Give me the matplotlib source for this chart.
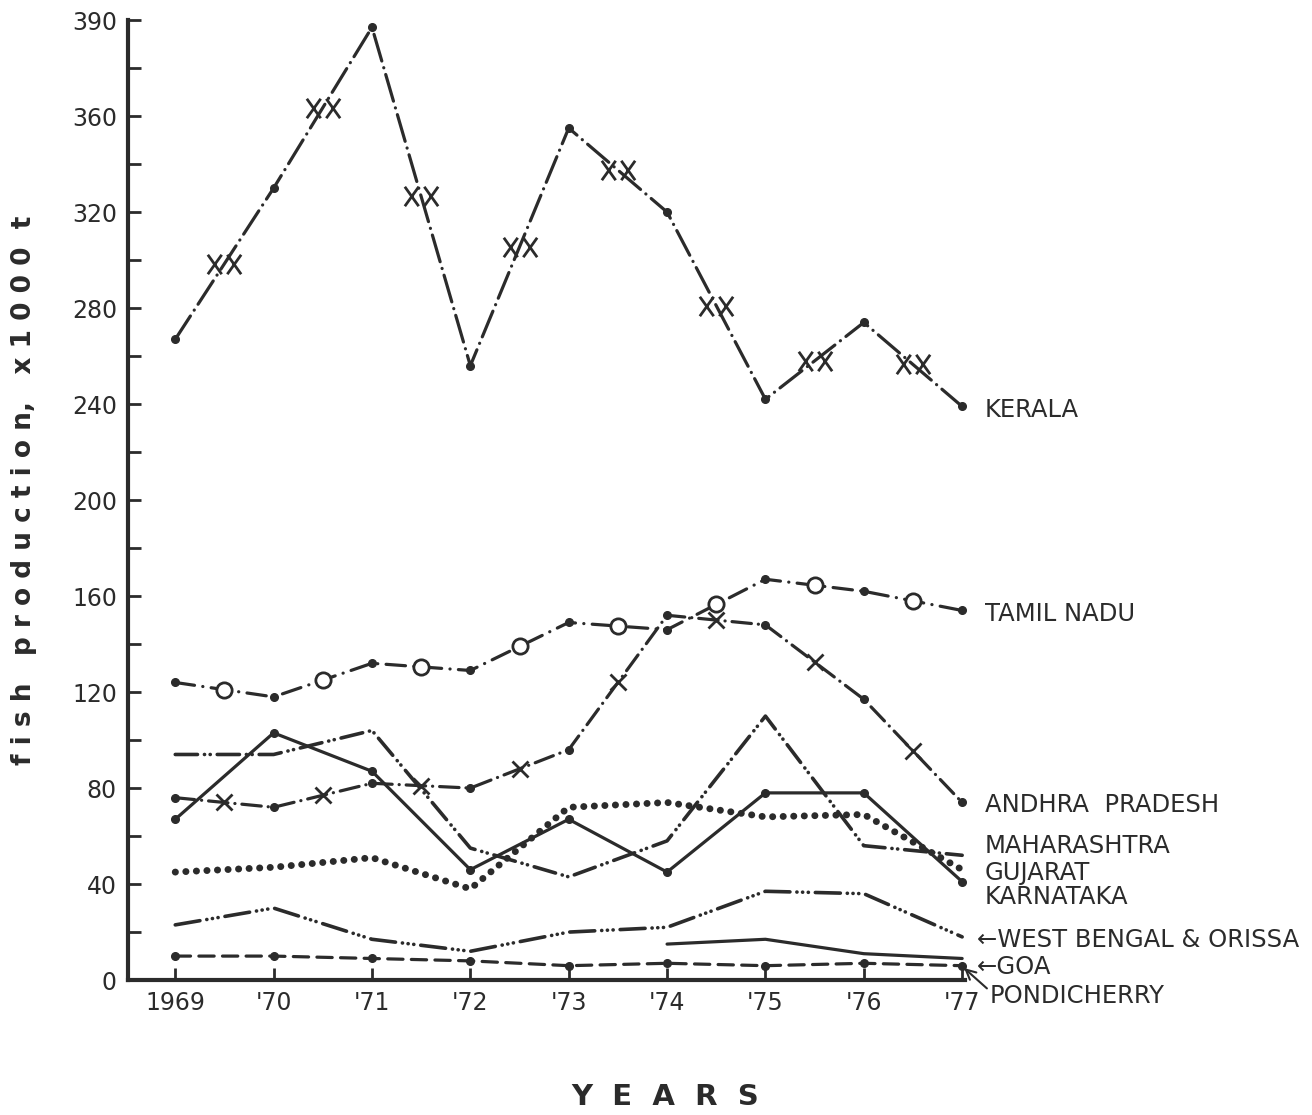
#!/usr/bin/env python3
""" Marine fish production by Indian maritime state, 1969-77.
"""

import numpy as np
import matplotlib
matplotlib.use("Agg")
import matplotlib.pyplot as plt
from matplotlib.path import Path

years = [1969, 1970, 1971, 1972, 1973, 1974, 1975, 1976, 1977]
year_labels = ["1969", "'70", "'71", "'72", "'73", "'74", "'75", "'76", "'77"]

kerala = [267, 330, 397, 256, 355, 320, 242, 274, 239]
tamil_nadu = [124, 118, 132, 129, 149, 146, 167, 162, 154]
andhra_pradesh = [76, 72, 82, 80, 96, 152, 148, 117, 74]
maharashtra = [94, 94, 104, 55, 43, 58, 110, 56, 52]
gujarat = [45, 47, 51, 38, 72, 74, 68, 69, 46]
karnataka = [67, 103, 87, 46, 67, 45, 78, 78, 41]
west_bengal_orissa = [23, 30, 17, 12, 20, 22, 37, 36, 18]
goa = [np.nan, np.nan, np.nan, np.nan, np.nan, 15, 17, 11, 9]
pondicherry = [10, 10, 9, 8, 6, 7, 6, 7, 6]

y_ticks = [0, 40, 80, 120, 160, 200, 240, 280, 320, 360, 400]
y_tick_labels = ["0", "40", "80", "120", "160", "200", "240", "280", "320", "360", "390"]

plt.rcParams["font.family"] = "DejaVu Sans"
plt.rcParams["lines.scale_dashes"] = False
INK = "#2b2b2b"

# marker shaped like the hand-drawn "xx" on the Kerala curve
xx_verts = [(-1.2, -0.7), (-0.2, 0.7), (-1.2, 0.7), (-0.2, -0.7),
            (0.2, -0.7), (1.2, 0.7), (0.2, 0.7), (1.2, -0.7)]
xx_codes = [Path.MOVETO, Path.LINETO] * 4
xx_marker = Path(xx_verts, xx_codes)

fig = plt.figure(figsize=(13.12, 11.15), dpi=100)
ax = fig.add_axes([0.0976, 0.121, 0.638, 0.861])

x = np.array(years, dtype=float)
mid_x = (x[:-1] + x[1:]) / 2


def mids(vals):
    v = np.array(vals, dtype=float)
    return (v[:-1] + v[1:]) / 2


def draw(vals, dashes, lw=2.3, dots=True, mid_marker=None, ms=11, mew=2.0):
    line_kw = dict(color=INK, lw=lw, dash_capstyle="round",
                   solid_capstyle="round", clip_on=False)
    if dashes is None:
        ax.plot(x, vals, ls="-", **line_kw)
    else:
        ax.plot(x, vals, ls=(0, dashes), **line_kw)
    if dots:
        ax.plot(x, vals, ls="none", marker="o", ms=5.5, color=INK, clip_on=False)
    if mid_marker is not None:
        ax.plot(mid_x, mids(vals), ls="none", marker=mid_marker, ms=ms,
                mfc="white" if mid_marker == "o" else "none", mec=INK, mew=mew)


draw(kerala, (20, 5, 0.1, 5), mid_marker=xx_marker, ms=24, mew=2.0)
draw(tamil_nadu, (14, 6, 0.1, 6), mid_marker="o", ms=11)
draw(andhra_pradesh, (14, 5, 0.1, 5), mid_marker="x", ms=12)
draw(maharashtra, (16, 5, 0.1, 4, 0.1, 5), lw=2.6, dots=False)
draw(gujarat, (0.1, 7.5), lw=5.0, dots=False)
draw(karnataka, None, dots=True)
draw(west_bengal_orissa, (18, 5, 0.1, 4, 0.1, 4, 0.1, 5), lw=2.6, dots=False)
draw(goa, None, dots=False)
draw(pondicherry, (11, 6), dots=True)

# labels at the right end of the curves
FS = 17.5
label_pos = [
    ("KERALA", 237.5), ("TAMIL NADU", 152.5), ("ANDHRA  PRADESH", 73),
    ("MAHARASHTRA", 56), ("GUJARAT", 44.5), ("KARNATAKA", 34.5),
]
for name, yv in label_pos:
    ax.text(1977.23, yv, name, fontsize=FS, color=INK, va="center", ha="left")
ax.text(1977.15, 16.5, "\u2190WEST BENGAL & ORISSA", fontsize=FS, color=INK,
        va="center", ha="left")
ax.text(1977.15, 5.5, "\u2190GOA", fontsize=FS, color=INK, va="center", ha="left")
ax.annotate("PONDICHERRY", xy=(1977.02, 5), xytext=(1977.28, -6.5),
            fontsize=FS, color=INK, va="center", ha="left",
            arrowprops=dict(arrowstyle="->", color=INK, lw=1.5,
                            shrinkA=0, shrinkB=0, relpos=(0, 0.7)),
            annotation_clip=False)

ax.set_xlim(1968.52, 1977.03)
ax.set_ylim(0, 400)
ax.set_xticks(years)
ax.set_xticklabels(year_labels, fontsize=17, color=INK)
ax.set_yticks(y_ticks)
ax.set_yticklabels(y_tick_labels, fontsize=17, color=INK)
ax.set_yticks(np.arange(20, 400, 40), minor=True)
ax.tick_params(axis="both", which="both", direction="in", length=9, width=2,
               color=INK, pad=8)

for side in ["top", "right"]:
    ax.spines[side].set_visible(False)
for side in ["left", "bottom"]:
    ax.spines[side].set_linewidth(3)
    ax.spines[side].set_color(INK)
ax.patch.set_alpha(0)

fig.text(0.507, 0.004, "Y  E  A  R  S", fontsize=21, fontweight="bold",
         color=INK, ha="center", va="bottom")
fig.text(0.018, 0.56, "f i s h   p r o d u c t i o n,   x 1 0 0 0  t",
         fontsize=19, fontweight="bold", color=INK, rotation=90,
         ha="center", va="center")

fig.savefig("out.png", dpi=100, facecolor="white")
